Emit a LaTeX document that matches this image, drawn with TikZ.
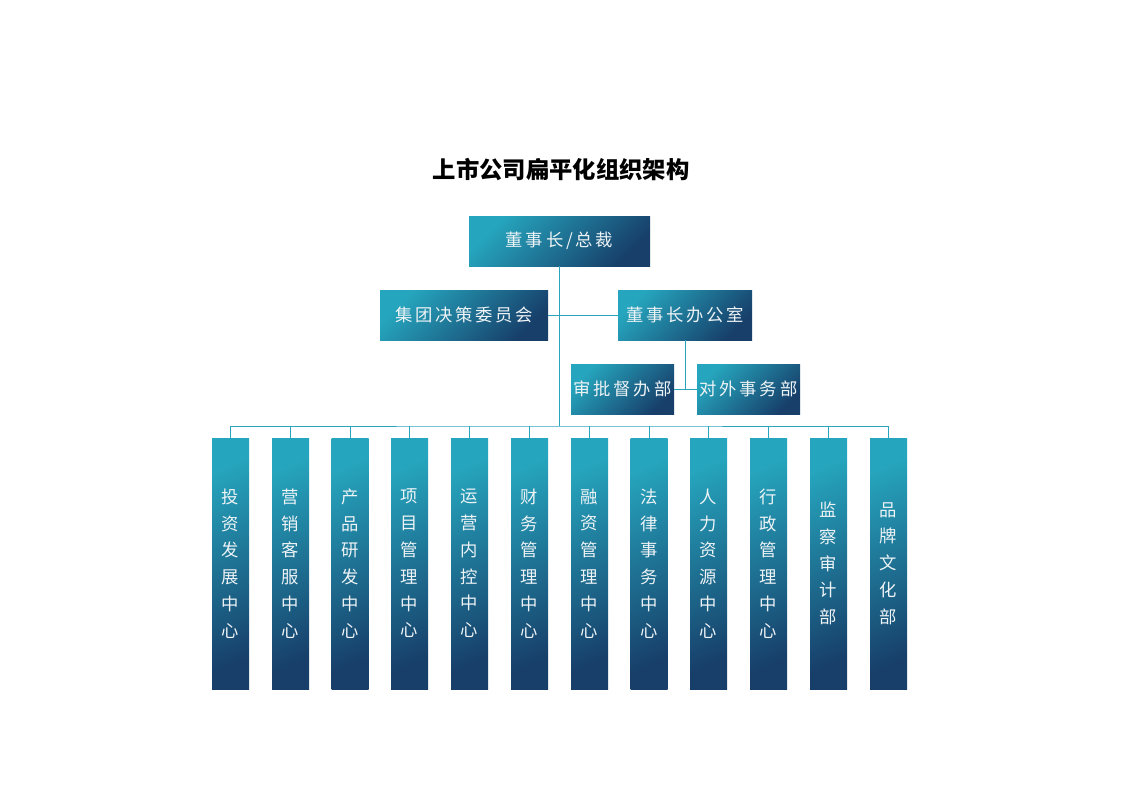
\documentclass[tikz,border=0pt]{standalone}
\usepackage{fontspec}
\newfontfamily\cjk{Noto Sans CJK SC}
\newfontfamily\boxfont[LetterSpace=16]{Noto Sans CJK SC}
\definecolor{boxlight}{HTML}{26A6BE}
\definecolor{boxdark}{HTML}{173F6A}
\definecolor{linkcol}{HTML}{2AA4BD}
\definecolor{boxtext}{HTML}{EEF3F6}
\begin{document}
\begin{tikzpicture}[x=0.75pt, y=-0.75pt,
  orgbox/.style={rectangle, inner sep=0pt, top color=boxlight, bottom color=boxdark,
    shading angle=45, text=boxtext, font=\boxfont\fontsize{13}{15}\selectfont,
    minimum height=37.5pt},
  deptbox/.style={orgbox, minimum width=27.75pt, minimum height=188.25pt,
    shading angle=25, align=center, font=\cjk\fontsize{13}{20.1}\selectfont},
  link/.style={draw=linkcol, line width=0.75pt}]
\useasboundingbox (0,0) rectangle (1122,793);
\node[font=\cjk\bfseries\fontsize{17.5}{20}\selectfont] (title) at (561,170) {上市公司扁平化组织架构};
\node[orgbox, minimum width=135.75pt] (ceo) at (559.5,241) {董事长/总裁};
\node[orgbox, minimum width=126pt] (cmte) at (464,315) {集团决策委员会};
\node[orgbox, minimum width=100.5pt] (office) at (685,315) {董事长办公室};
\node[orgbox, minimum width=77.25pt] (audit) at (622.5,389) {审批督办部};
\node[orgbox, minimum width=77.25pt] (extern) at (748.5,389) {对外事务部};
\node[deptbox] (dept1) at (230.5,563.5) {投\\资\\发\\展\\中\\心};
\node[deptbox] (dept2) at (290.5,563.5) {营\\销\\客\\服\\中\\心};
\node[deptbox] (dept3) at (350,563.5) {产\\品\\研\\发\\中\\心};
\node[deptbox] (dept4) at (409.5,563.5) {项\\目\\管\\理\\中\\心};
\node[deptbox] (dept5) at (469.5,563.5) {运\\营\\内\\控\\中\\心};
\node[deptbox] (dept6) at (529.5,563.5) {财\\务\\管\\理\\中\\心};
\node[deptbox] (dept7) at (589.5,563.5) {融\\资\\管\\理\\中\\心};
\node[deptbox] (dept8) at (649,563.5) {法\\律\\事\\务\\中\\心};
\node[deptbox] (dept9) at (708.5,563.5) {人\\力\\资\\源\\中\\心};
\node[deptbox] (dept10) at (768.5,563.5) {行\\政\\管\\理\\中\\心};
\node[deptbox] (dept11) at (828.5,563.5) {监\\察\\审\\计\\部};
\node[deptbox] (dept12) at (888.5,563.5) {品\\牌\\文\\化\\部};
\coordinate (bus) at (559.5,426);
\draw[link] (ceo) -- (bus);
\draw[link] (cmte) -- (office);
\draw[link] (office) -- (office |- audit);
\draw[link] (audit) -- (extern);
\draw[link] (dept1.north) |- (bus) -| (dept12.north);
\draw[link] (dept2.north) -- (dept2.north |- bus);
\draw[link] (dept3.north) -- (dept3.north |- bus);
\draw[link] (dept4.north) -- (dept4.north |- bus);
\draw[link] (dept5.north) -- (dept5.north |- bus);
\draw[link] (dept6.north) -- (dept6.north |- bus);
\draw[link] (dept7.north) -- (dept7.north |- bus);
\draw[link] (dept8.north) -- (dept8.north |- bus);
\draw[link] (dept9.north) -- (dept9.north |- bus);
\draw[link] (dept10.north) -- (dept10.north |- bus);
\draw[link] (dept11.north) -- (dept11.north |- bus);
\end{tikzpicture}
\end{document}
